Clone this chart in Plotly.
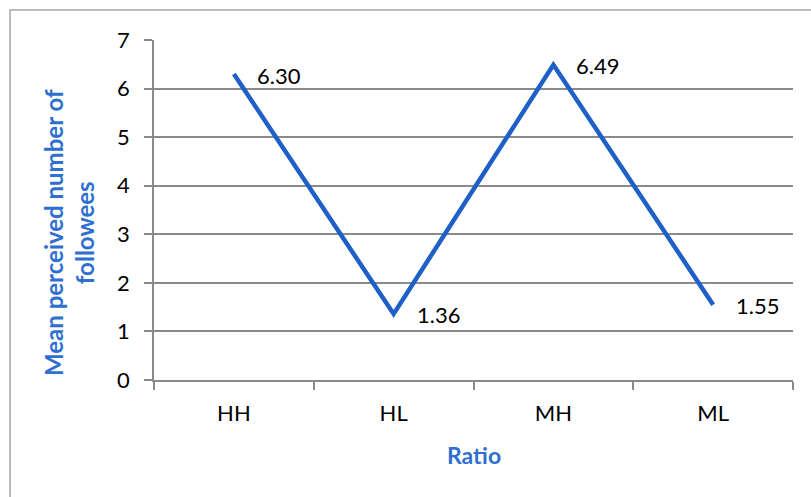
import plotly.graph_objects as go

categories = ["HH", "HL", "MH", "ML"]
values = [6.30, 1.36, 6.49, 1.55]
labels = ["6.30", "1.36", "6.49", "1.55"]
y_ticks = [0, 1, 2, 3, 4, 5, 6, 7]

BLUE = "#1f5fc8"
TITLE_BLUE = "#2e6fd0"
GRID = "#8a8a8a"
FONT = "Lato, 'Open Sans', sans-serif"

# plot area in pixels
L, R, T, B = 154, 793, 40, 380
W, H = 811, 497
pw, ph = R - L, B - T

fig = go.Figure()
fig.add_trace(go.Scatter(
    x=categories, y=values, mode="lines",
    line=dict(color=BLUE, width=4.5), hoverinfo="skip", showlegend=False,
))

for c, v, t in zip(categories, values, labels):
    fig.add_annotation(x=c, y=v, text=t, showarrow=False, xanchor="left",
                       yanchor="middle", xshift=21, yshift=-1,
                       font=dict(family=FONT, size=22, color="#000000"))

def px_x(p):
    return (p - L) / pw

def px_y(p):
    return (B - p) / ph

# outer chart border
fig.add_shape(type="rect", xref="paper", yref="paper",
              x0=px_x(10), x1=px_x(W + 20), y0=px_y(H + 20), y1=px_y(10),
              line=dict(color="#a6a6a6", width=1.5), layer="below")

fig.add_annotation(xref="paper", yref="paper", x=px_x(69), y=px_y(233),
                   xanchor="center", yanchor="middle",
                   text="<b>Mean perceived number of<br>followees</b>",
                   textangle=-90, showarrow=False,
                   font=dict(family=FONT, size=24, color=TITLE_BLUE))
fig.add_annotation(xref="paper", yref="paper", x=px_x(474), y=px_y(455),
                   xanchor="center", yanchor="middle",
                   text="<b>Ratio</b>", showarrow=False,
                   font=dict(family=FONT, size=23, color=TITLE_BLUE))

fig.update_layout(
    width=W, height=H,
    margin=dict(l=L, r=W - R, t=T, b=H - B),
    paper_bgcolor="white", plot_bgcolor="white",
    font=dict(family=FONT, size=22, color="#000000"),
)
fig.update_xaxes(
    type="category", range=[-0.5, 3.5], tickson="boundaries",
    ticks="outside", ticklen=8, tickcolor=GRID, tickwidth=1.5,
    showline=True, linecolor=GRID, linewidth=1.5, showgrid=False,
    tickfont=dict(family=FONT, size=22), ticklabelstandoff=13,
)
fig.update_yaxes(
    range=[0, 7], tickvals=y_ticks, ticktext=[str(v) for v in y_ticks],
    ticks="outside", ticklen=8, tickcolor=GRID, tickwidth=1.5,
    showline=True, linecolor=GRID, linewidth=1.5,
    showgrid=True, gridcolor=GRID, gridwidth=1.5, zeroline=False,
    tickfont=dict(family=FONT, size=22), ticklabelstandoff=10,
)

fig.write_html("out.html", config={"displayModeBar": False},
               post_script="document.body.style.margin='0';")
